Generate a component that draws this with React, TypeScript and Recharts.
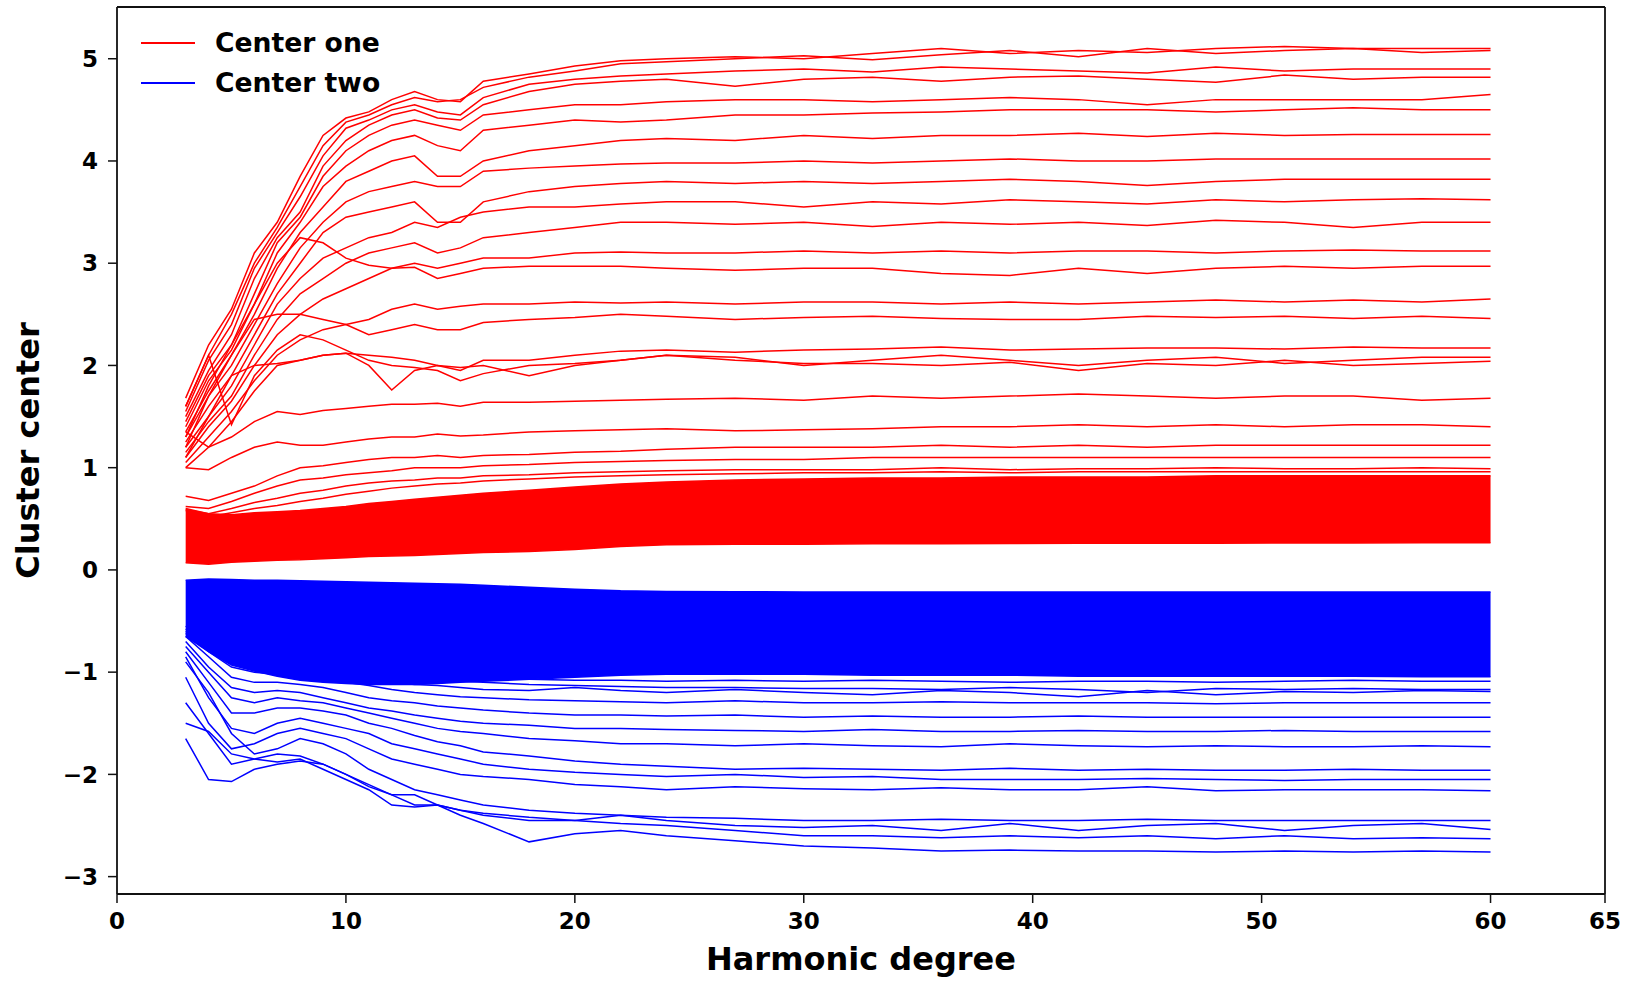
import React from 'react';
import { ComposedChart, Line, Area, XAxis, YAxis, ReferenceLine, Legend } from 'recharts';

// Harmonic degree sample positions
const X = [3, 4, 5, 6, 7, 8, 9, 10, 11, 12, 13, 14, 15, 16, 18, 20, 22, 24, 27, 30, 33, 36, 39, 42, 45, 48, 51, 54, 57, 60];

const X_TICKS = [0, 10, 20, 30, 40, 50, 60, 65];
const Y_TICKS = [-3, -2, -1, 0, 1, 2, 3, 4, 5];
const X_MIN = 0;
const X_MAX = 65;
const Y_MIN = -3.17;
const Y_MAX = 5.506;

// Dense bundle of "Center one" curves (lower / upper envelope)
const RED_BAND_LOW = [0.07, 0.055, 0.075, 0.085, 0.095, 0.1, 0.11, 0.12, 0.13, 0.135, 0.14, 0.15, 0.16, 0.17, 0.18, 0.2, 0.23, 0.245, 0.25, 0.252, 0.255, 0.257, 0.258, 0.26, 0.26, 0.262, 0.263, 0.264, 0.265, 0.265];
const RED_BAND_HIGH = [0.59, 0.55, 0.54, 0.56, 0.57, 0.58, 0.6, 0.62, 0.65, 0.67, 0.69, 0.71, 0.73, 0.75, 0.78, 0.81, 0.84, 0.86, 0.88, 0.89, 0.9, 0.9, 0.91, 0.91, 0.91, 0.92, 0.92, 0.92, 0.92, 0.92];

// Dense bundle of "Center two" curves (lower / upper envelope)
const BLUE_BAND_LOW = [-0.65, -0.8, -0.93, -0.99, -1.04, -1.08, -1.1, -1.11, -1.12, -1.12, -1.12, -1.11, -1.1, -1.09, -1.07, -1.05, -1.03, -1.02, -1.02, -1.02, -1.03, -1.03, -1.03, -1.04, -1.04, -1.04, -1.04, -1.04, -1.045, -1.045];
const BLUE_BAND_HIGH = [-0.1, -0.09, -0.095, -0.1, -0.1, -0.105, -0.11, -0.115, -0.12, -0.125, -0.13, -0.135, -0.14, -0.15, -0.17, -0.19, -0.205, -0.21, -0.213, -0.215, -0.215, -0.215, -0.215, -0.215, -0.215, -0.215, -0.215, -0.215, -0.215, -0.215];

// Individual "Center one" curves
const R01 = [1.68, 2.2, 2.55, 3.1, 3.4, 3.85, 4.25, 4.42, 4.48, 4.6, 4.68, 4.6, 4.58, 4.78, 4.85, 4.93, 4.98, 5.0, 5.02, 5.0, 5.05, 5.1, 5.05, 5.08, 5.06, 5.1, 5.12, 5.1, 5.1, 5.1];
const R02 = [1.6, 2.1, 2.5, 3.0, 3.35, 3.75, 4.15, 4.38, 4.45, 4.55, 4.62, 4.58, 4.6, 4.72, 4.82, 4.88, 4.95, 4.97, 5.0, 5.03, 4.99, 5.04, 5.08, 5.02, 5.1, 5.05, 5.08, 5.1, 5.06, 5.08];
const R03 = [1.55, 2.05, 2.4, 2.95, 3.3, 3.65, 4.05, 4.32, 4.4, 4.5, 4.55, 4.48, 4.45, 4.62, 4.75, 4.8, 4.83, 4.85, 4.88, 4.9, 4.87, 4.92, 4.9, 4.88, 4.86, 4.92, 4.88, 4.9, 4.9, 4.9];
const R04 = [1.5, 1.95, 2.3, 2.85, 3.25, 3.5, 3.95, 4.2, 4.35, 4.45, 4.5, 4.42, 4.4, 4.55, 4.68, 4.75, 4.78, 4.8, 4.73, 4.8, 4.82, 4.78, 4.82, 4.83, 4.8, 4.77, 4.84, 4.8, 4.82, 4.82];
const R05 = [1.45, 1.9, 2.2, 2.7, 3.2, 3.45, 3.85, 4.1, 4.25, 4.35, 4.4, 4.35, 4.3, 4.45, 4.5, 4.55, 4.55, 4.58, 4.6, 4.6, 4.58, 4.6, 4.62, 4.6, 4.55, 4.6, 4.6, 4.6, 4.6, 4.65];
const R06 = [1.4, 1.85, 2.15, 2.6, 3.1, 3.4, 3.75, 3.95, 4.1, 4.2, 4.25, 4.15, 4.1, 4.3, 4.35, 4.4, 4.38, 4.4, 4.45, 4.45, 4.47, 4.48, 4.5, 4.5, 4.5, 4.48, 4.5, 4.52, 4.5, 4.5];
const R07 = [1.35, 1.75, 2.1, 2.5, 2.95, 3.3, 3.55, 3.8, 3.9, 4.0, 4.05, 3.85, 3.85, 4.0, 4.1, 4.15, 4.2, 4.22, 4.2, 4.25, 4.22, 4.25, 4.25, 4.27, 4.24, 4.27, 4.25, 4.26, 4.26, 4.26];
const R08 = [1.3, 1.7, 2.0, 2.4, 2.8, 3.15, 3.4, 3.6, 3.7, 3.75, 3.8, 3.75, 3.75, 3.9, 3.93, 3.95, 3.97, 3.98, 3.98, 4.0, 3.98, 4.0, 4.02, 4.0, 4.0, 4.02, 4.02, 4.02, 4.02, 4.02];
const R09 = [1.25, 1.6, 1.9, 2.3, 2.7, 3.0, 3.3, 3.45, 3.5, 3.55, 3.6, 3.4, 3.4, 3.6, 3.7, 3.75, 3.78, 3.8, 3.78, 3.8, 3.78, 3.8, 3.82, 3.8, 3.76, 3.8, 3.82, 3.82, 3.82, 3.82];
const R10 = [1.2, 1.5, 1.8, 2.2, 2.6, 2.85, 3.05, 3.15, 3.25, 3.3, 3.4, 3.35, 3.45, 3.5, 3.55, 3.55, 3.58, 3.6, 3.6, 3.55, 3.6, 3.58, 3.62, 3.6, 3.58, 3.62, 3.6, 3.62, 3.63, 3.62];
const R11 = [1.15, 1.45, 1.7, 2.1, 2.45, 2.7, 2.85, 3.0, 3.1, 3.15, 3.2, 3.1, 3.15, 3.25, 3.3, 3.35, 3.4, 3.4, 3.38, 3.4, 3.36, 3.4, 3.38, 3.4, 3.37, 3.42, 3.4, 3.35, 3.4, 3.4];
const R12 = [1.1, 1.4, 1.65, 2.0, 2.3, 2.5, 2.65, 2.75, 2.85, 2.95, 3.0, 2.95, 3.0, 3.05, 3.05, 3.1, 3.11, 3.1, 3.1, 3.12, 3.1, 3.12, 3.1, 3.12, 3.12, 3.1, 3.12, 3.13, 3.12, 3.12];
const R13 = [1.3, 1.8, 2.2, 2.6, 3.0, 3.25, 3.2, 3.05, 2.98, 2.95, 2.96, 2.85, 2.9, 2.95, 2.97, 2.97, 2.97, 2.95, 2.93, 2.95, 2.95, 2.9, 2.88, 2.95, 2.9, 2.95, 2.97, 2.95, 2.97, 2.97];
const R14 = [1.05, 1.3, 1.55, 1.85, 2.1, 2.25, 2.35, 2.4, 2.45, 2.55, 2.6, 2.55, 2.58, 2.6, 2.6, 2.62, 2.61, 2.62, 2.6, 2.62, 2.62, 2.6, 2.62, 2.6, 2.62, 2.64, 2.62, 2.64, 2.62, 2.65];
const R15 = [1.2, 1.7, 2.1, 2.45, 2.5, 2.5, 2.45, 2.4, 2.3, 2.35, 2.4, 2.35, 2.35, 2.42, 2.45, 2.47, 2.5, 2.48, 2.45, 2.47, 2.48, 2.46, 2.45, 2.45, 2.48, 2.47, 2.48, 2.46, 2.48, 2.46];
const R16 = [1.0, 1.2, 1.45, 1.75, 2.0, 2.05, 2.1, 2.12, 2.1, 2.08, 2.05, 2.0, 1.95, 2.05, 2.05, 2.1, 2.14, 2.15, 2.13, 2.15, 2.16, 2.18, 2.15, 2.16, 2.17, 2.17, 2.16, 2.18, 2.17, 2.17];
const R17 = [1.1, 1.5, 1.9, 2.0, 2.02, 2.05, 2.1, 2.12, 2.0, 1.76, 1.95, 2.0, 1.98, 2.0, 1.9, 2.0, 2.05, 2.1, 2.08, 2.0, 2.05, 2.1, 2.05, 2.0, 2.05, 2.08, 2.02, 2.05, 2.08, 2.08];
const R18 = [1.6, 2.1, 1.42, 1.9, 2.15, 2.3, 2.25, 2.15, 2.05, 2.0, 1.98, 1.95, 1.85, 1.92, 2.0, 2.02, 2.05, 2.1, 2.05, 2.02, 2.02, 2.0, 2.03, 1.95, 2.02, 2.0, 2.05, 2.0, 2.02, 2.04];
const R19 = [1.35, 1.2, 1.3, 1.45, 1.55, 1.52, 1.56, 1.58, 1.6, 1.62, 1.62, 1.63, 1.6, 1.64, 1.64, 1.65, 1.66, 1.67, 1.68, 1.66, 1.7, 1.68, 1.7, 1.72, 1.7, 1.68, 1.7, 1.7, 1.66, 1.68];
const R20 = [1.0, 0.98, 1.1, 1.2, 1.25, 1.22, 1.22, 1.25, 1.28, 1.3, 1.3, 1.33, 1.31, 1.32, 1.35, 1.36, 1.37, 1.38, 1.36, 1.37, 1.38, 1.4, 1.4, 1.42, 1.4, 1.42, 1.4, 1.42, 1.42, 1.4];
const R21 = [0.72, 0.68, 0.75, 0.82, 0.92, 1.0, 1.02, 1.05, 1.08, 1.1, 1.1, 1.12, 1.1, 1.12, 1.13, 1.15, 1.16, 1.18, 1.2, 1.2, 1.2, 1.22, 1.2, 1.22, 1.2, 1.22, 1.22, 1.22, 1.22, 1.22];
const R22 = [0.62, 0.6, 0.67, 0.75, 0.82, 0.88, 0.9, 0.93, 0.95, 0.97, 1.0, 1.0, 1.0, 1.02, 1.03, 1.05, 1.06, 1.07, 1.08, 1.08, 1.1, 1.1, 1.1, 1.1, 1.1, 1.1, 1.1, 1.1, 1.1, 1.1];
const R23 = [0.6, 0.55, 0.6, 0.66, 0.7, 0.75, 0.78, 0.82, 0.85, 0.87, 0.88, 0.9, 0.9, 0.92, 0.93, 0.95, 0.96, 0.97, 0.98, 0.98, 0.98, 1.0, 0.98, 0.99, 0.99, 1.0, 0.99, 0.99, 1.0, 0.99];
const R24 = [0.58, 0.52, 0.56, 0.6, 0.63, 0.67, 0.7, 0.74, 0.77, 0.8, 0.82, 0.84, 0.85, 0.87, 0.89, 0.91, 0.92, 0.93, 0.94, 0.95, 0.95, 0.96, 0.95, 0.96, 0.96, 0.96, 0.96, 0.96, 0.96, 0.96];

// Individual "Center two" curves
const B01 = [-1.65, -2.05, -2.07, -1.95, -1.9, -1.87, -1.9, -2.0, -2.1, -2.2, -2.3, -2.3, -2.4, -2.48, -2.66, -2.58, -2.55, -2.6, -2.65, -2.7, -2.72, -2.75, -2.74, -2.75, -2.75, -2.76, -2.75, -2.76, -2.75, -2.76];
const B02 = [-1.5, -1.58, -1.8, -1.85, -1.88, -1.85, -1.95, -2.05, -2.15, -2.3, -2.32, -2.3, -2.35, -2.4, -2.45, -2.45, -2.48, -2.5, -2.55, -2.6, -2.6, -2.62, -2.6, -2.62, -2.6, -2.63, -2.6, -2.63, -2.62, -2.63];
const B03 = [-1.3, -1.6, -1.9, -1.85, -1.8, -1.82, -1.9, -2.0, -2.12, -2.2, -2.2, -2.3, -2.35, -2.38, -2.42, -2.45, -2.4, -2.45, -2.5, -2.52, -2.5, -2.55, -2.48, -2.55, -2.5, -2.48, -2.55, -2.5, -2.48, -2.54];
const B04 = [-0.9, -1.2, -1.6, -1.8, -1.75, -1.65, -1.7, -1.8, -1.95, -2.05, -2.15, -2.2, -2.25, -2.3, -2.35, -2.38, -2.4, -2.42, -2.43, -2.45, -2.45, -2.44, -2.45, -2.45, -2.44, -2.45, -2.45, -2.45, -2.45, -2.45];
const B05 = [-1.05, -1.5, -1.75, -1.7, -1.6, -1.55, -1.6, -1.65, -1.75, -1.85, -1.9, -1.95, -2.0, -2.02, -2.05, -2.1, -2.12, -2.15, -2.12, -2.14, -2.15, -2.13, -2.15, -2.15, -2.12, -2.16, -2.15, -2.15, -2.15, -2.16];
const B06 = [-0.85, -1.25, -1.55, -1.6, -1.5, -1.45, -1.5, -1.55, -1.6, -1.7, -1.75, -1.8, -1.85, -1.9, -1.95, -1.98, -2.0, -2.02, -2.0, -2.03, -2.02, -2.05, -2.05, -2.05, -2.04, -2.05, -2.06, -2.05, -2.05, -2.05];
const B07 = [-0.8, -1.1, -1.4, -1.4, -1.35, -1.35, -1.38, -1.42, -1.5, -1.55, -1.62, -1.68, -1.72, -1.78, -1.82, -1.87, -1.9, -1.92, -1.95, -1.94, -1.95, -1.96, -1.94, -1.96, -1.95, -1.96, -1.96, -1.95, -1.96, -1.96];
const B08 = [-0.75, -1.0, -1.25, -1.3, -1.25, -1.28, -1.3, -1.35, -1.4, -1.45, -1.5, -1.55, -1.58, -1.6, -1.65, -1.67, -1.7, -1.7, -1.72, -1.7, -1.72, -1.73, -1.7, -1.72, -1.73, -1.72, -1.73, -1.73, -1.72, -1.73];
const B09 = [-0.7, -0.95, -1.15, -1.2, -1.18, -1.2, -1.25, -1.3, -1.35, -1.38, -1.42, -1.45, -1.48, -1.5, -1.52, -1.55, -1.55, -1.56, -1.57, -1.58, -1.56, -1.58, -1.58, -1.57, -1.58, -1.58, -1.57, -1.58, -1.58, -1.58];
const B10 = [-0.65, -0.85, -1.05, -1.1, -1.1, -1.12, -1.15, -1.2, -1.25, -1.28, -1.3, -1.33, -1.35, -1.37, -1.4, -1.42, -1.42, -1.43, -1.42, -1.44, -1.43, -1.44, -1.44, -1.43, -1.44, -1.44, -1.44, -1.44, -1.44, -1.44];
const B11 = [-0.62, -0.8, -0.95, -1.0, -1.02, -1.05, -1.08, -1.1, -1.13, -1.17, -1.2, -1.22, -1.24, -1.25, -1.27, -1.28, -1.29, -1.3, -1.28, -1.3, -1.3, -1.29, -1.3, -1.3, -1.3, -1.31, -1.3, -1.3, -1.3, -1.3];
const B12 = [-0.6, -0.75, -0.9, -0.95, -0.98, -1.0, -1.03, -1.05, -1.08, -1.1, -1.12, -1.13, -1.15, -1.17, -1.18, -1.15, -1.18, -1.2, -1.17, -1.2, -1.22, -1.18, -1.2, -1.24, -1.18, -1.22, -1.19, -1.2, -1.18, -1.19];
const B13 = [-0.58, -0.72, -0.85, -0.9, -0.95, -0.97, -1.0, -1.02, -1.03, -1.05, -1.06, -1.07, -1.09, -1.1, -1.12, -1.13, -1.14, -1.15, -1.15, -1.16, -1.16, -1.17, -1.15, -1.17, -1.2, -1.16, -1.17, -1.16, -1.17, -1.17];
const B14 = [-0.55, -0.7, -0.82, -0.88, -0.92, -0.95, -0.97, -1.0, -1.02, -1.03, -1.04, -1.05, -1.06, -1.07, -1.07, -1.08, -1.08, -1.09, -1.08, -1.09, -1.08, -1.09, -1.1, -1.09, -1.09, -1.1, -1.09, -1.08, -1.09, -1.09];

const RED_LINES = [R01, R02, R03, R04, R05, R06, R07, R08, R09, R10, R11, R12, R13, R14, R15, R16, R17, R18, R19, R20, R21, R22, R23, R24];
const BLUE_LINES = [B01, B02, B03, B04, B05, B06, B07, B08, B09, B10, B11, B12, B13, B14];

const LEGEND_ITEMS = [
  { label: 'Center one', color: '#ff0000' },
  { label: 'Center two', color: '#0000ff' },
];

const RED = '#ff0000';
const BLUE = '#0000ff';
const FONT = "'DejaVu Sans', sans-serif";

const rows = X.map((x, i) => {
  const row: Record<string, any> = {
    x,
    redBand: [RED_BAND_LOW[i], RED_BAND_HIGH[i]],
    blueBand: [BLUE_BAND_LOW[i], BLUE_BAND_HIGH[i]],
  };
  RED_LINES.forEach((s, k) => { row['r' + k] = s[i]; });
  BLUE_LINES.forEach((s, k) => { row['b' + k] = s[i]; });
  return row;
});

const fmtY = (v: number) => (v < 0 ? '\u2212' + Math.abs(v) : String(v));

const LegendBox = () => (
  <div style={{ position: 'relative', width: 300, height: 80, fontFamily: FONT, fontWeight: 'bold', fontSize: 26.6, color: '#000' }}>
    {LEGEND_ITEMS.map((it, i) => (
      <div key={it.label} style={{ position: 'absolute', left: 0, top: i * 40, height: 40, display: 'flex', alignItems: 'center' }}>
        <span style={{ display: 'inline-block', width: 54, height: 2, background: it.color }} />
        <span style={{ marginLeft: 20, lineHeight: '40px', whiteSpace: 'nowrap' }}>{it.label}</span>
      </div>
    ))}
  </div>
);

const tickStyle = { fontSize: 23, fontWeight: 'bold' as const, fontFamily: FONT, fill: '#000' };
const labelStyle = { fontSize: 32, fontWeight: 'bold' as const, fontFamily: FONT, fill: '#000' };

export default function App() {
  return (
    <div style={{ position: 'absolute', left: 0, top: 0, width: 1638, height: 982, background: '#fff' }}>
      <ComposedChart width={1638} height={982} data={rows} margin={{ top: 7, right: 33, left: 17, bottom: 8 }}>
        <XAxis
          type="number"
          dataKey="x"
          domain={[X_MIN, X_MAX]}
          ticks={X_TICKS}
          allowDataOverflow
          height={80}
          tick={tickStyle}
          tickSize={9}
          tickMargin={10}
          axisLine={{ stroke: '#111', strokeWidth: 1.8 }}
          tickLine={{ stroke: '#111', strokeWidth: 1.5 }}
          label={{ value: 'Harmonic degree', position: 'insideBottom', offset: 4, style: labelStyle }}
        />
        <YAxis
          type="number"
          domain={[Y_MIN, Y_MAX]}
          ticks={Y_TICKS}
          allowDataOverflow
          width={100}
          tick={tickStyle}
          tickFormatter={fmtY}
          tickSize={9}
          tickMargin={10}
          axisLine={{ stroke: '#111', strokeWidth: 1.8 }}
          tickLine={{ stroke: '#111', strokeWidth: 1.5 }}
          label={{ value: 'Cluster center', angle: -90, position: 'insideLeft', offset: 11, style: { ...labelStyle, textAnchor: 'middle' } }}
        />
        <Area type="linear" dataKey="redBand" stroke={RED} strokeWidth={1.5} fill={RED} fillOpacity={1} isAnimationActive={false} dot={false} activeDot={false} />
        <Area type="linear" dataKey="blueBand" stroke={BLUE} strokeWidth={1.5} fill={BLUE} fillOpacity={1} isAnimationActive={false} dot={false} activeDot={false} />
        {RED_LINES.map((_, k) => (
          <Line key={'r' + k} type="linear" dataKey={'r' + k} stroke={RED} strokeWidth={1.5} dot={false} activeDot={false} isAnimationActive={false} />
        ))}
        {BLUE_LINES.map((_, k) => (
          <Line key={'b' + k} type="linear" dataKey={'b' + k} stroke={BLUE} strokeWidth={1.5} dot={false} activeDot={false} isAnimationActive={false} />
        ))}
        <ReferenceLine x={X_MAX} stroke="#111" strokeWidth={1.8} />
        <ReferenceLine y={Y_MAX} stroke="#111" strokeWidth={1.8} />
        <Legend layout="vertical" align="center" verticalAlign="middle" content={() => <LegendBox />} wrapperStyle={{ left: 141, top: 23, width: 300 }} />
      </ComposedChart>
    </div>
  );
}
